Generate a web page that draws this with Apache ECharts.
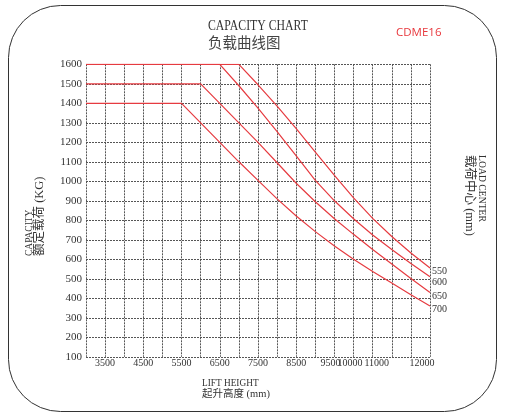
<!DOCTYPE html>
<html>
<head>
<meta charset="utf-8">
<script src="https://cdn.jsdelivr.net/npm/echarts@6/dist/echarts.min.js"></script>
<style>
  html, body { margin: 0; padding: 0; background: #fff; }
  #chart { width: 506px; height: 418px; }
</style>
</head>
<body>
<div id="chart"></div>
<script>
// lift height (mm), one point every 500 mm
const heights = [3000, 3500, 4000, 4500, 5000, 5500, 6000, 6500, 7000, 7500,
                 8000, 8500, 9000, 9500, 10000, 10500, 11000, 11500, 12000];

// rated capacity (kg) per load centre
const load550 = [1600, 1600, 1600, 1600, 1600, 1600, 1600, 1600, 1600, 1495,
                 1385, 1270, 1150, 1030, 915, 810, 717, 632, 555];
const load600 = [1600, 1600, 1600, 1600, 1600, 1600, 1600, 1600, 1490, 1375,
                 1255, 1130, 1005, 900, 808, 725, 650, 578, 511];
const load650 = [1500, 1500, 1500, 1500, 1500, 1500, 1500, 1400, 1300, 1200,
                 1095, 990, 895, 808, 728, 650, 576, 502, 430];
const load700 = [1400, 1400, 1400, 1400, 1400, 1400, 1300, 1200, 1100, 1005,
                 910, 822, 742, 668, 600, 538, 478, 418, 360];

const loadCenters = ['550', '600', '650', '700'];
const xTickLabels = [3500, 4500, 5500, 6500, 7500, 8500, 9500, 10000, 11000, 12000];

const serif = '"Liberation Serif", "Noto Sans CJK SC", serif';
const red = '#e63b40';
const gridLine = { color: '#555', width: 1, type: [2, 1] };

// the printed labels near the right end sit a little left of their ticks
const nudge = { 9500: 'n1', 10000: 'n2', 11000: 'n3', 12000: 'n4' };
const labelBase = { fontFamily: serif, fontSize: 10, color: '#333' };

const chart = echarts.init(document.getElementById('chart'));

function makeSeries(name, values, dy) {
    return {
        name: name,
        type: 'line',
        symbol: 'none',
        data: heights.map((h, i) => [h, values[i]]),
        lineStyle: { color: red, width: 1.2 },
        endLabel: {
            show: true,
            formatter: '{a}',
            distance: 2,
            offset: [0, dy],
            fontFamily: serif,
            fontSize: 10,
            color: '#333'
        },
        animation: false
    };
}

const option = {
    backgroundColor: '#fff',
    animation: false,
    grid: { left: 86, top: 64.3, width: 344, height: 292.5 },
    xAxis: {
        type: 'value',
        min: 3000,
        max: 12000,
        interval: 500,
        axisLine: { show: false },
        axisTick: { show: false },
        splitLine: { show: true, lineStyle: gridLine },
        axisLabel: {
            margin: 2,
            fontFamily: serif,
            fontSize: 10,
            color: '#333',
            formatter: function (v) {
                if (xTickLabels.indexOf(v) < 0) return '';
                const key = nudge[v] || 'n0';
                return '{' + key + '|' + v + '}';
            },
            rich: {
                n0: Object.assign({}, labelBase),
                n1: Object.assign({ padding: [0, 8, 0, 0] }, labelBase),
                n2: Object.assign({ padding: [0, 7, 0, 0] }, labelBase),
                n3: Object.assign({ padding: [0, 30, 0, 0] }, labelBase),
                n4: Object.assign({ padding: [0, 16, 0, 0] }, labelBase)
            }
        }
    },
    yAxis: {
        type: 'value',
        min: 100,
        max: 1600,
        interval: 100,
        axisLine: { show: false },
        axisTick: { show: false },
        splitLine: { show: true, lineStyle: gridLine },
        axisLabel: {
            margin: 4, fontFamily: serif, fontSize: 11, color: '#333',
            formatter: function (v) { return String(v); }
        }
    },
    series: [
        makeSeries(loadCenters[0], load550, 3.5),
        makeSeries(loadCenters[1], load600, 6),
        makeSeries(loadCenters[2], load650, 3.5),
        makeSeries(loadCenters[3], load700, 3)
    ],
    graphic: [
        {
            type: 'rect', silent: true, z: -1,
            shape: { x: 8.5, y: 5.5, width: 488, height: 406, r: 52 },
            style: { fill: 'none', stroke: '#333', lineWidth: 1 }
        },
        {
            type: 'text', x: 208, y: 26, scaleX: 0.84,
            style: { text: 'CAPACITY CHART', fontFamily: serif, fontSize: 14,
                     fill: '#333', align: 'left', verticalAlign: 'middle' }
        },
        {
            type: 'text', x: 208, y: 42,
            style: { text: '负载曲线图', fontFamily: '"Noto Sans CJK SC", sans-serif',
                     fontSize: 14.5, fill: '#444', align: 'left', verticalAlign: 'middle' }
        },
        {
            type: 'text', x: 396, y: 33,
            style: { text: 'CDME16', fontFamily: '"Open Sans", sans-serif', fontSize: 11.5,
                     fill: '#e8383d', align: 'left', verticalAlign: 'middle' }
        },
        {
            type: 'text', x: 29, y: 256, rotation: Math.PI / 2, scaleX: 0.86,
            style: { text: 'CAPACITY', fontFamily: serif, fontSize: 11,
                     fill: '#333', align: 'left', verticalAlign: 'middle' }
        },
        {
            type: 'text', x: 40, y: 256, rotation: Math.PI / 2,
            style: { text: '额定载荷 (KG)', fontFamily: serif, fontSize: 12.5,
                     fill: '#333', align: 'left', verticalAlign: 'middle' }
        },
        {
            type: 'text', x: 482, y: 155, rotation: -Math.PI / 2, scaleX: 0.88,
            style: { text: 'LOAD CENTER', fontFamily: serif, fontSize: 11,
                     fill: '#333', align: 'left', verticalAlign: 'middle' }
        },
        {
            type: 'text', x: 469, y: 155, rotation: -Math.PI / 2,
            style: { text: '载荷中心 (mm)', fontFamily: serif, fontSize: 12.5,
                     fill: '#333', align: 'left', verticalAlign: 'middle' }
        },
        {
            type: 'text', x: 202, y: 383, scaleX: 0.93,
            style: { text: 'LIFT HEIGHT', fontFamily: serif, fontSize: 10,
                     fill: '#333', align: 'left', verticalAlign: 'middle' }
        },
        {
            type: 'text', x: 202, y: 394,
            style: { text: '起升高度 (mm)', fontFamily: serif, fontSize: 10.5,
                     fill: '#333', align: 'left', verticalAlign: 'middle' }
        }
    ]
};

chart.setOption(option);

window.addEventListener('resize', function () {
    chart.resize();
});
</script>
</body>
</html>
